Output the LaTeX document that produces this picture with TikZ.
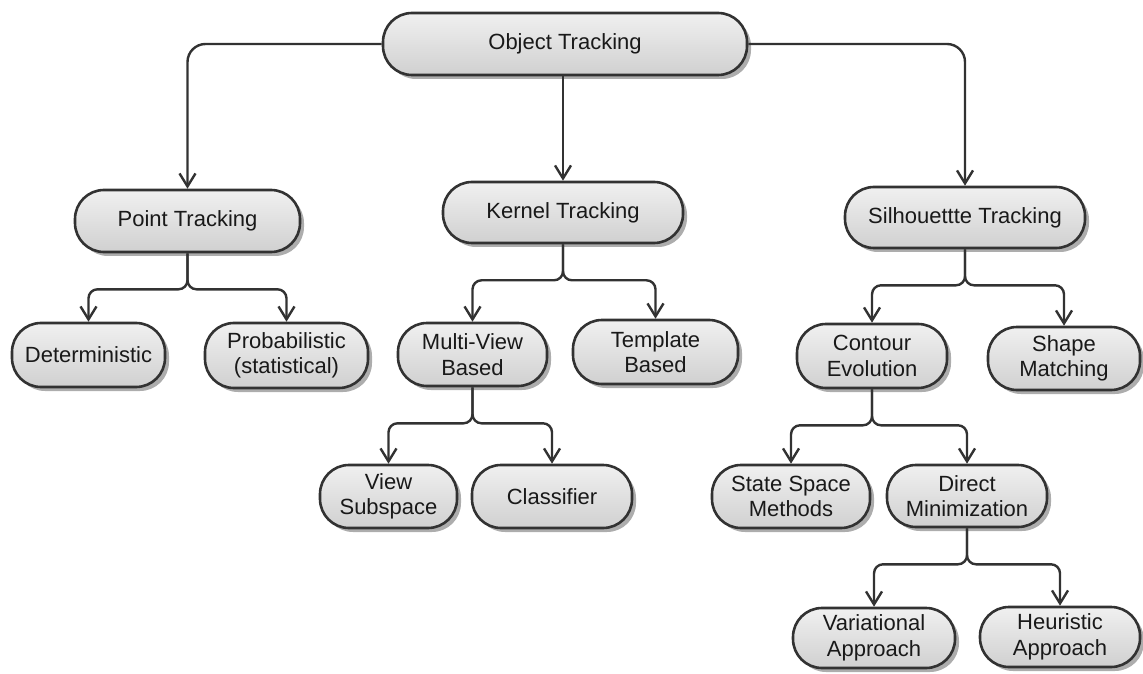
\documentclass[tikz,border=0pt]{standalone}
\usepackage{fontspec}
\setmainfont{Liberation Sans}
\usetikzlibrary{arrows.meta,shadows}

\definecolor{boxtop}{RGB}{240,240,240}
\definecolor{boxbot}{RGB}{208,208,208}
\definecolor{edge}{RGB}{50,50,50}
\definecolor{ink}{RGB}{25,25,25}

\tikzset{
  box/.style={rectangle, rounded corners=14.5pt, draw=edge, line width=1.3pt,
    top color=boxtop, bottom color=boxbot, text=ink, align=center,
    inner sep=0pt, font=\fontsize{11pt}{12.8pt}\selectfont,
    drop shadow={shadow xshift=2pt, shadow yshift=-2pt, fill=black!32, opacity=1}},
  conn/.style={draw=edge, line width=1.2pt, rounded corners=4.5pt,
    -{Straight Barb[length=6.5pt,width=8pt,line width=1.2pt]}},
  trunk/.style={conn, rounded corners=9pt}
}

\begin{document}
\begin{tikzpicture}[x=0.5pt, y=-0.5pt]
\useasboundingbox (0,0) rectangle (1143,673);

% root
\node[box, minimum width=182pt, minimum height=31pt] (ot) at (565,44) {Object Tracking};

% first level
\node[box, minimum width=112.5pt, minimum height=31pt] (pt) at (187.5,221) {Point Tracking};
\node[box, minimum width=120pt, minimum height=30.5pt] (kt) at (563,212.5) {Kernel Tracking};
\node[box, minimum width=120pt, minimum height=30.5pt] (st) at (965,217.5) {Silhouettte Tracking};

% second level
\node[box, minimum width=76.5pt, minimum height=32pt] (det) at (88.5,355) {Deterministic};
\node[box, minimum width=81.5pt, minimum height=32.5pt] (prob) at (286.5,355.5) {Probabilistic\\(statistical)};
\node[box, minimum width=74.5pt, minimum height=31.5pt] (mv) at (472.5,354.5) {Multi-View\\Based};
\node[box, minimum width=82.5pt, minimum height=32pt] (tb) at (655.5,352) {Template\\Based};
\node[box, minimum width=75pt, minimum height=32pt] (ce) at (872,356) {Contour\\Evolution};
\node[box, minimum width=76pt, minimum height=31.5pt] (sm) at (1064,358.5) {Shape\\Matching};

% third level
\node[box, minimum width=68.5pt, minimum height=31.5pt] (vs) at (388.5,496.5) {View\\Subspace};
\node[box, minimum width=80pt, minimum height=31.5pt] (cl) at (552,496.5) {Classifier};
\node[box, minimum width=79pt, minimum height=31.5pt] (ss) at (791,496.5) {State Space\\Methods};
\node[box, minimum width=80pt, minimum height=31pt] (dm) at (967,496) {Direct\\Minimization};

% fourth level
\node[box, minimum width=81pt, minimum height=30pt] (va) at (874,638) {Variational\\Approach};
\node[box, minimum width=80pt, minimum height=30pt] (ha) at (1060,637) {Heuristic\\Approach};

% root connectors
\draw[trunk] (ot.west) -| (pt.north);
\draw[trunk] (ot.east) -| (st.north);
\draw[conn] (ot.south -| kt.north) -- (kt.north);

% branching connectors
\foreach \p/\c in {pt/det, pt/prob, kt/mv, kt/tb, st/ce, st/sm,
                   mv/vs, mv/cl, ce/ss, ce/dm, dm/va, dm/ha}
  \draw[conn] (\p.south) -- ++(0,36) -| (\c.north);

\end{tikzpicture}
\end{document}
